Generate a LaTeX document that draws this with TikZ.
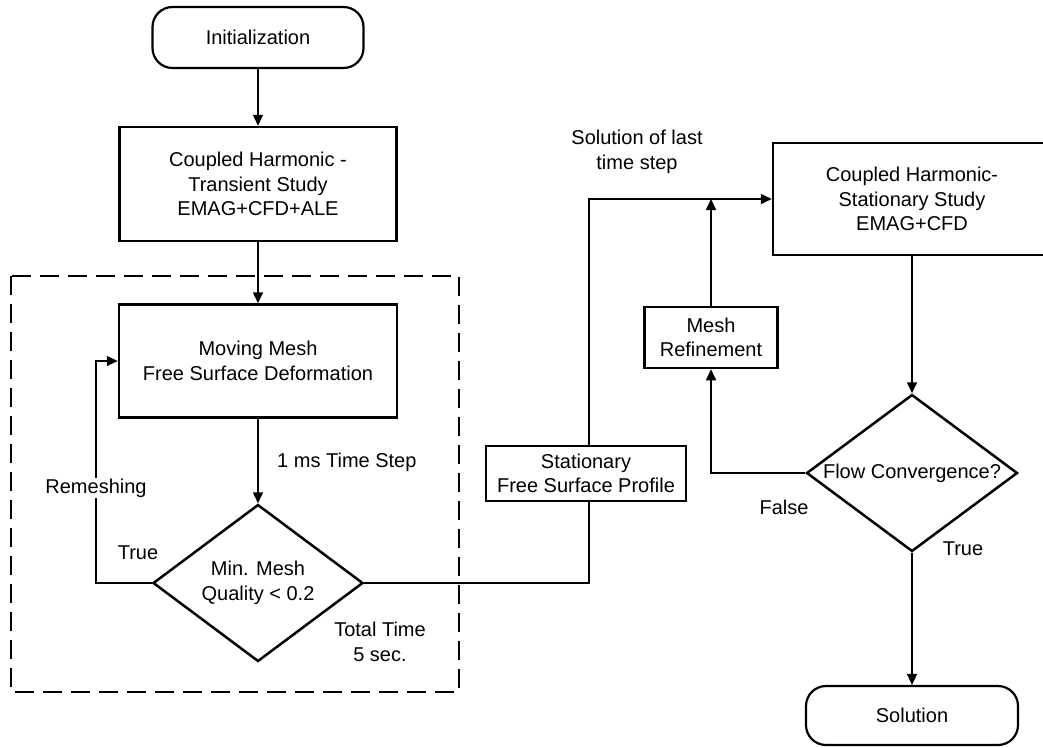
\documentclass[tikz,border=0pt]{standalone}
\usepackage{fontspec}
\setmainfont{Liberation Sans}
\usetikzlibrary{shapes.geometric,arrows.meta}
\begin{document}
\begin{tikzpicture}[x=1pt,y=-1pt,
  every node/.style={font=\fontsize{20}{24.5}\selectfont, align=center},
  box/.style={draw, line width=2.5pt, rectangle, inner sep=0pt, fill=white},
  terminal/.style={box, line width=2.2pt, rounded corners=20pt},
  decision/.style={draw, line width=2.5pt, diamond, inner sep=0pt, fill=white},
  flow/.style={line width=1.5pt, -{Triangle[length=11pt,width=10pt]}},
  lbl/.style={inner sep=1pt}
]
\useasboundingbox (0,0) rectangle (1043,747);

% grouping frame of the transient loop
\draw[line width=2.2pt, dash pattern=on 19pt off 9pt] (11,276) rectangle (459,692);

% left column
\node[terminal, minimum width=211pt, minimum height=61pt] (init) at (258,37.5) {Initialization};
\node[box, minimum width=277pt, minimum height=114pt] (trans) at (258,184) {Coupled Harmonic -\\Transient Study\\EMAG+CFD+ALE};
\node[box, minimum width=278pt, minimum height=113pt] (move) at (258,361) {Moving Mesh\\Free Surface Deformation};
\node[decision, minimum width=210pt, minimum height=157pt] (dq) at (258,583) {};
\node (dqtext) at (258,583) {Min. Mesh\\Quality < 0.2};

% right column
\node[box, minimum width=278pt, minimum height=112pt] (stat) at (912,199) {Coupled Harmonic-\\Stationary Study\\EMAG+CFD};
\node[decision, minimum width=211pt, minimum height=157pt] (dc) at (912,473) {};
\node (dctext) at (912,473) {Flow Convergence?};
\node[terminal, minimum width=212pt, minimum height=59pt] (sol) at (912,715.5) {Solution};
\node[box, minimum width=133pt, minimum height=61pt] (refine) at (711,337.5) {Mesh\\Refinement};

% connectors
\draw[flow] (init) -- (trans);
\draw[flow] (trans) -- (move);
\draw[flow] (move) -- (dq);
\coordinate (loopbot) at (96,583);
\coordinate (looptop) at (96,361);
\draw[flow] (dq.west) -- (loopbot) -- (looptop) -- (move.west);

\coordinate (handlow) at (589,583);
\coordinate (handhigh) at (589,199);
\draw[flow] (dq.east) -- (handlow) -- (handhigh) -- (stat.west);
\coordinate (refinetop) at (711,199);
\draw[flow] (refine.north) -- (refinetop);
\coordinate (falsecorner) at (711,473);
\draw[flow] (dc.west) -- (falsecorner) -- (refine.south);
\draw[flow] (stat) -- (dc);
\draw[flow] (dc.south) -- (sol);

% box sitting on the hand-over line
\node[box, minimum width=200pt, minimum height=55pt] (profile) at (586,473.5) {Stationary\\Free Surface Profile};

% labels
\node[lbl, fill=white] (remesh) at (96,488) {Remeshing};
\node[lbl] (truel) at (138,553) {True};
\node[lbl, anchor=west] (tstep) at (276,462) {1 ms Time Step};
\node[lbl] (total) at (380,642) {Total Time\\5 sec.};
\node[lbl] (lastsol) at (637,152) {Solution of last\\time step};
\node[lbl] (falsel) at (784,507) {False};
\node[lbl] (truer) at (963,549) {True};
\end{tikzpicture}
\end{document}
